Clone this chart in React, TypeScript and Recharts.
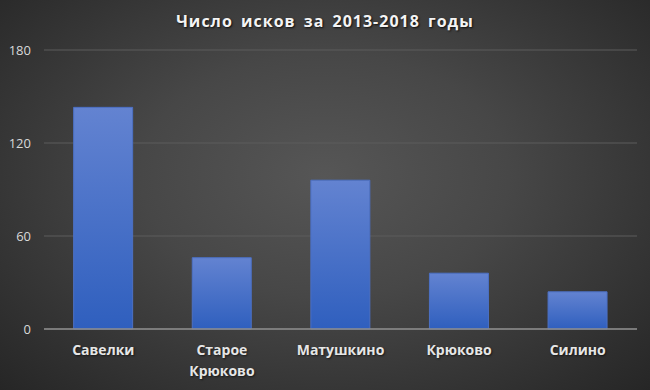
import { Bar, BarChart, CartesianGrid, XAxis, YAxis } from "recharts";

const villages = ["Савелки", "Старое Крюково", "Матушкино", "Крюково", "Силино"];
const claims = [143, 46, 96, 36, 24];
const yTicks = [0, 60, 120, 180];

const data = villages.map((name, i) => ({ name, claims: claims[i] }));

const FONT = "'Open Sans', 'Noto Sans', sans-serif";

function CategoryTick(props: any) {
  const { x, y, payload } = props;
  const lines = String(payload.value).split(" ");
  return (
    <text
      x={x}
      y={y}
      textAnchor="middle"
      fill="#e6e6e6"
      fontFamily={FONT}
      fontSize={14}
      fontWeight={700}
      style={{ textShadow: "1px 1px 2px rgba(0,0,0,0.6)" }}
    >
      {lines.map((line, i) => (
        <tspan key={line} x={x} dy={i === 0 ? 18 : 21}>
          {line}
        </tspan>
      ))}
    </text>
  );
}

export default function App() {
  return (
    <div
      style={{
        position: "absolute",
        top: 0,
        left: 0,
        width: 650,
        height: 390,
        background:
          "radial-gradient(ellipse at 50% 45%, #565656 0%, #474747 40%, #2e2e2e 85%, #262626 100%)",
        fontFamily: FONT,
      }}
    >
      <div
        style={{
          position: "absolute",
          top: 10,
          left: 0,
          width: 650,
          textAlign: "center",
          color: "#f4f4f4",
          fontSize: 16,
          fontWeight: 700,
          letterSpacing: 1,
          wordSpacing: 3,
          textShadow: "1px 1px 2px rgba(0,0,0,0.8)",
        }}
      >
        Число исков за 2013-2018 годы
      </div>
      <BarChart
        width={650}
        height={390}
        data={data}
        margin={{ top: 50, right: 13, left: 0, bottom: 0 }}
        barCategoryGap="25%"
      >
        <defs>
          <linearGradient id="barFill" x1="0" y1="0" x2="0" y2="1">
            <stop offset="0%" stopColor="#6383d1" />
            <stop offset="100%" stopColor="#2f5fbe" />
          </linearGradient>
        </defs>
        <CartesianGrid vertical={false} stroke="#5c5c5c" />
        <XAxis
          dataKey="name"
          height={61}
          tickLine={false}
          axisLine={{ stroke: "#8c8c8c", strokeWidth: 1.5 }}
          tick={<CategoryTick />}
          interval={0}
        />
        <YAxis
          width={44}
          domain={[0, 180]}
          ticks={yTicks}
          tickLine={false}
          axisLine={false}
          tickSize={0}
          tickMargin={13}
          tick={{ fill: "#d9d9d9", fontSize: 13, fontFamily: FONT }}
        />
        <Bar
          dataKey="claims"
          fill="url(#barFill)"
          stroke="#4c70c4"
          strokeWidth={1}
          isAnimationActive={false}
        />
      </BarChart>
    </div>
  );
}
